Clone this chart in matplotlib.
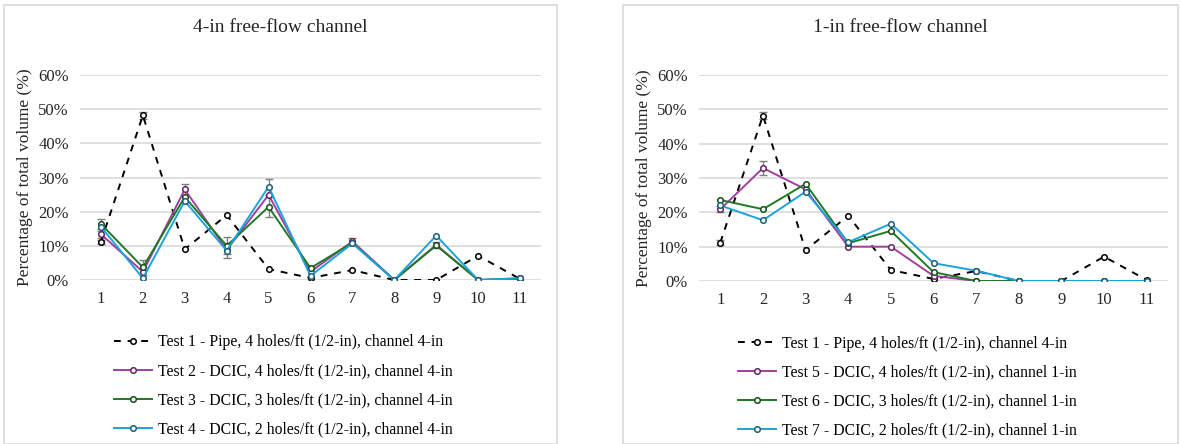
import numpy as np
import matplotlib.pyplot as plt
from matplotlib.patches import Rectangle
from matplotlib.ticker import PercentFormatter

plt.rcParams['font.family'] = ['Liberation Serif', 'DejaVu Serif']

positions = list(range(1, 12))

# Test 1 (pipe) is shared by both panels
test1 = [11.2, 48.2, 9.0, 19.0, 3.2, 0.6, 2.9, 0.0, 0.0, 7.1, 0.3]
test1_err_4in = [0.6, 1.0, 0, 0, 0, 0, 0, 0, 0, 0, 0]
test1_err_1in = [0.7, 1.0, 0, 0, 0, 0, 0, 0, 0, 0, 0]

# 4-in channel tests
test2 = [13.4, 2.4, 26.5, 8.8, 24.9, 2.4, 11.3, 0.0, 10.3, 0.0, 0.3]
test3 = [16.4, 3.7, 24.3, 10.0, 21.4, 3.5, 10.9, 0.0, 10.1, 0.0, 0.5]
test4 = [15.6, 0.5, 23.1, 8.6, 27.3, 1.2, 10.7, 0.0, 13.0, 0.0, 0.5]
test2_err = [1.0, 0, 1.6, 0, 0, 0, 1.0, 0, 0.8, 0, 0]
test3_err = [1.4, 2.3, 0, 2.5, 3.0, 0, 0, 0, 0, 0, 0]
test4_err = [0, 0, 0, 2.2, 2.3, 0, 0, 0, 0, 0, 0]

# 1-in channel tests
test5 = [20.9, 32.9, 26.7, 10.0, 10.0, 1.5, 0.0, 0.0, 0.0, 0.0, 0.0]
test6 = [23.6, 20.9, 28.3, 11.0, 14.6, 2.6, 0.0, 0.0, 0.0, 0.0, 0.0]
test7 = [22.0, 17.7, 26.0, 11.3, 16.7, 5.2, 3.0, 0.0, 0.0, 0.0, 0.0]
test5_err = [0.8, 2.0, 0, 0, 0, 0, 0, 0, 0, 0, 0]

labels_4in = [
    'Test 1 - Pipe, 4 holes/ft (1/2-in), channel 4-in',
    'Test 2 - DCIC, 4 holes/ft (1/2-in), channel 4-in',
    'Test 3 - DCIC, 3 holes/ft (1/2-in), channel 4-in',
    'Test 4 - DCIC, 2 holes/ft (1/2-in), channel 4-in',
]
labels_1in = [
    'Test 1 - Pipe, 4 holes/ft (1/2-in), channel 4-in',
    'Test 5 - DCIC, 4 holes/ft (1/2-in), channel 1-in',
    'Test 6 - DCIC, 3 holes/ft (1/2-in), channel 1-in',
    'Test 7 - DCIC, 2 holes/ft (1/2-in), channel 1-in',
]

line_colors = ['black', '#A43EA0', '#1F7A24', '#1BA3DD']
edge_colors = ['black', '#6B1F6A', '#144D18', '#1A5F75']

W, H = 1180, 444


def draw_panel(fig, box, rect, title, series, errors, labels, legend_x):
    # light frame around the panel, title centred in it
    bx0, bx1 = box
    fig.patches.append(Rectangle((bx0 / W, 0), (bx1 - bx0) / W, 439 / H,
                                 transform=fig.transFigure, fill=False,
                                 edgecolor='#D9D9D9', lw=1.2))
    fig.text((bx0 + bx1) / 2 / W, 1 - 28 / H, title, ha='center', va='center',
             fontsize=14, color='#262626')

    ax = fig.add_axes(rect)
    for i, (vals, errs, lab) in enumerate(zip(series, errors, labels)):
        y = np.array(vals) / 100
        ax.plot(positions, y, color=line_colors[i], lw=1.4,
                ls=(0, (3.5, 3.5)) if i == 0 else '-',
                marker='o', ms=4, mfc='white', mec=edge_colors[i], mew=1.1,
                label=lab, zorder=3 + i)
        e = np.array(errs) / 100
        keep = e > 0
        if keep.any():
            ax.errorbar(np.array(positions)[keep], y[keep], yerr=e[keep], fmt='none',
                        ecolor='#7F7F7F', elinewidth=1.0, capsize=3, capthick=1.0,
                        zorder=2)
    ax.set_xlim(0.5, 11.5)
    ax.set_ylim(0, 0.6)
    ax.set_xticks(positions)
    ax.set_yticks(np.arange(0, 0.61, 0.1))
    ax.yaxis.set_major_formatter(PercentFormatter(1.0, decimals=0))
    ax.grid(axis='y', color='#D9D9D9', lw=1.2)
    ax.set_axisbelow(True)
    for s in ax.spines.values():
        s.set_visible(False)
    ax.tick_params(length=0, labelsize=12, colors='#262626', pad=8)
    ax.set_ylabel('Percentage of total volume (%)', fontsize=12.5, color='#262626', labelpad=4)
    ax.legend(loc='upper left', bbox_to_anchor=(legend_x, -0.235), frameon=False,
              fontsize=11.3, handlelength=2.4, handletextpad=0.4, labelspacing=0.82,
              borderaxespad=0)
    return ax


fig = plt.figure(figsize=(W / 100, H / 100), dpi=100)

draw_panel(fig, (4, 557), [80 / W, 164 / H, 461 / W, 205 / H], '4-in free-flow channel',
           [test1, test2, test3, test4],
           [test1_err_4in, test2_err, test3_err, test4_err], labels_4in, 0.06)
draw_panel(fig, (623, 1178), [699 / W, 163 / H, 469 / W, 206 / H], '1-in free-flow channel',
           [test1, test5, test6, test7],
           [test1_err_1in, test5_err, [0] * 11, [0] * 11], labels_1in, 0.07)

fig.savefig('out.png', dpi=100)
